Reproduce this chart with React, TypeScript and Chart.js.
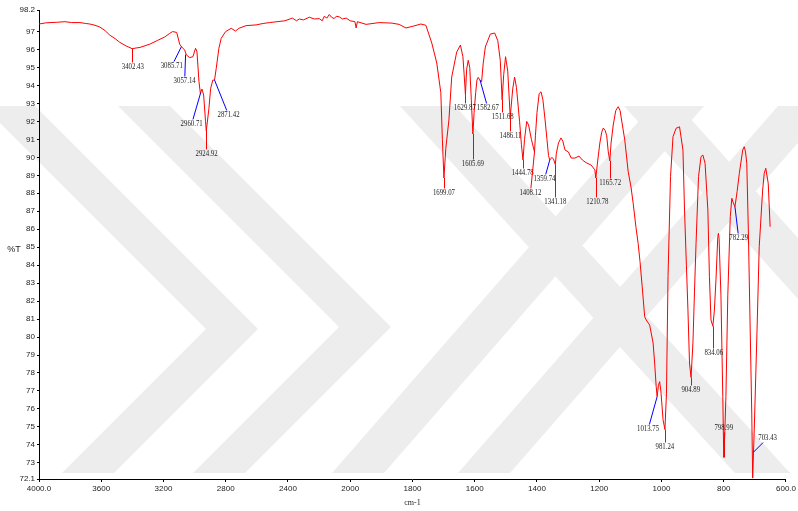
import React, { useEffect, useRef } from 'react';
import { Chart, registerables } from 'chart.js';

Chart.register(...registerables);

// ---- spectrum (wavenumber cm-1, %T) ----
const wavenumbers: number[] = [
  4000, 3960, 3929, 3880, 3833, 3790, 3737, 3700, 3673, 3640, 3609, 3575, 3545, 3510, 3481, 3440, 3402, 3350, 3288, 3240,
  3192, 3160, 3141, 3115, 3096, 3085, 3064, 3053, 3032, 3011, 2994, 2985, 2972, 2963, 2953, 2942, 2930, 2925, 2908, 2897,
  2883, 2872, 2861, 2844, 2829, 2801, 2765, 2737, 2716, 2669, 2605, 2560, 2519, 2470, 2420, 2372, 2345, 2327, 2300, 2263,
  2230, 2199, 2180, 2167, 2150, 2135, 2120, 2103, 2090, 2071, 2050, 2026, 2000, 1985, 1981, 1977, 1949, 1907, 1866, 1843,
  1821, 1798, 1773, 1757, 1738, 1722, 1709, 1704, 1699, 1693, 1683, 1674, 1658, 1646, 1638, 1634, 1630, 1626, 1621, 1616,
  1611, 1606, 1602, 1597, 1593, 1589, 1583, 1578, 1573, 1566, 1550, 1536, 1526, 1518, 1512, 1507, 1501, 1494, 1486, 1478,
  1472, 1466, 1456, 1450, 1445, 1440, 1433, 1427, 1418, 1408, 1405, 1400, 1393, 1387, 1381, 1374, 1368, 1363, 1359, 1352,
  1347, 1341, 1338, 1331, 1323, 1317, 1310, 1299, 1290, 1278, 1265, 1254, 1242, 1226, 1214, 1211, 1205, 1198, 1192, 1187,
  1181, 1176, 1171, 1166, 1162, 1155, 1147, 1139, 1133, 1118, 1107, 1098, 1091, 1082, 1075, 1069, 1062, 1054, 1049, 1038,
  1027, 1022, 1017, 1014, 1010, 1006, 1002, 995, 989, 984, 979, 971, 963, 953, 942, 931, 926, 920, 915, 910,
  905, 899, 894, 889, 881, 873, 867, 860, 851, 846, 841, 835, 830, 825, 819, 817, 815, 809, 803, 800,
  797, 793, 787, 779, 774, 770, 764, 757, 750, 739, 734, 730, 726, 721, 715, 710, 707, 702, 693, 686,
  675, 670, 665, 657, 651,
];
const transmittance: number[] = [
  97.42, 97.48, 97.5, 97.52, 97.55, 97.5, 97.5, 97.45, 97.42, 97.35, 97.25, 97.05, 96.8, 96.6, 96.4, 96.2, 96.05, 96.12, 96.3, 96.5,
  96.7, 96.9, 97.0, 96.95, 96.3, 96.16, 95.97, 95.7, 95.55, 95.6, 96.07, 95.88, 94.21, 93.56, 93.8, 93.47, 92.0, 91.47, 92.73, 93.84,
  94.3, 94.3, 94.96, 96.07, 96.63, 97.0, 97.18, 97.03, 97.18, 97.33, 97.37, 97.45, 97.5, 97.55, 97.6, 97.75, 97.6, 97.7, 97.65, 97.8,
  97.7, 97.72, 97.6, 97.85, 97.75, 97.95, 97.8, 97.72, 97.85, 97.82, 97.7, 97.75, 97.6, 97.55, 97.2, 97.55, 97.4, 97.5, 97.47, 97.4,
  97.2, 97.3, 97.42, 97.35, 96.36, 95.25, 93.6, 91.0, 88.85, 90.5, 92.08, 94.47, 95.86, 96.25, 95.6, 94.6, 93.5, 94.9, 95.4, 95.0,
  93.2, 91.3, 92.5, 93.6, 94.3, 94.45, 94.3, 94.2, 95.2, 96.14, 96.86, 96.92, 96.5, 95.4, 93.2, 94.6, 95.6, 94.8, 92.25, 93.8,
  94.47, 93.9, 92.0, 90.7, 89.85, 91.0, 92.0, 91.8, 91.0, 90.3, 91.2, 92.5, 93.55, 93.65, 93.2, 92.08, 91.0, 90.1, 89.85, 90.0,
  89.9, 89.6, 90.2, 90.8, 91.08, 90.9, 90.41, 90.3, 89.96, 89.96, 90.07, 89.85, 89.7, 89.57, 89.3, 88.85, 89.8, 90.8, 91.4, 91.63,
  91.5, 91.2, 90.3, 89.8, 90.8, 91.8, 92.6, 92.82, 92.6, 90.97, 89.2, 88.35, 87.45, 86.1, 85.2, 84.2, 82.8, 81.13, 80.95, 80.67,
  79.67, 78.55, 77.24, 76.68, 77.3, 77.52, 77.0, 75.4, 74.85, 76.87, 83.36, 88.93, 91.15, 91.62, 91.7, 90.4, 87.07, 84.0, 81.5, 78.55,
  77.75, 79.67, 82.5, 85.2, 88.93, 90.04, 90.13, 89.67, 87.07, 83.36, 80.95, 80.6, 81.5, 83.18, 85.6, 85.77, 85.5, 82.29, 76.68, 73.3,
  74.5, 76.68, 82.29, 86.7, 87.72, 87.5, 87.25, 88.1, 89.1, 90.41, 90.59, 90.3, 89.67, 85.96, 80.39, 75.77, 72.15, 74.83, 80.39, 85.03,
  88.18, 89.1, 89.39, 88.55, 86.14,
];

// ---- axes ----
const xTickWavenumbers: number[] = [4000, 3600, 3200, 2800, 2400, 2000, 1800, 1600, 1400, 1200, 1000, 800, 600];
const yTickValues: number[] = [72.1, 73, 74, 75, 76, 77, 78, 79, 80, 81, 82, 83, 84, 85, 86, 87, 88, 89, 90, 91, 92, 93, 94, 95, 96, 97, 98.2];
const yMin = 72.1;
const yMax = 98.2;
const xTitle = 'cm-1';
const yTitle = '%T';

// ---- peak picks ----
const peakLabels: string[] = [
  '3402.43', '3085.71', '3057.14', '2960.71', '2924.92', '2871.42', '1699.07', '1629.87', '1582.67', '1605.69',
  '1511.68', '1486.11', '1444.78', '1408.12', '1359.74', '1341.18', '1210.78', '1165.72', '1013.75', '981.24',
  '904.89', '834.06', '798.99', '782.29', '703.43',
];
const peakW: number[] = [3402, 3085, 3058, 2961, 2925, 2872, 1699, 1630, 1583, 1606, 1512, 1486, 1445, 1408, 1359, 1341, 1211, 1166, 1014, 989, 905, 835, 800, 764, 704];
const peakT: number[] = [96.05, 96.16, 95.72, 93.6, 91.47, 94.3, 88.85, 93.5, 94.3, 91.3, 93.2, 92.25, 89.85, 90.3, 89.85, 89.6, 88.85, 89.8, 76.68, 74.85, 77.75, 80.6, 73.3, 87.25, 73.6];
const labelW: number[] = [3397, 3147, 3064, 3019, 2923, 2782, 1699, 1632, 1558, 1606, 1510, 1485, 1446, 1421, 1376, 1341, 1206, 1165, 1043, 989, 906, 832, 800, 752, 659];
const labelT: number[] = [95.03, 95.08, 94.25, 91.86, 90.19, 92.36, 88.02, 92.75, 92.75, 89.63, 92.25, 91.19, 89.13, 88.02, 88.8, 87.52, 87.52, 88.57, 74.88, 73.88, 77.05, 79.11, 74.94, 85.51, 74.38];
const peakKind: string[] = [
  'drop', 'callout', 'callout', 'callout', 'drop', 'callout', 'drop', 'drop', 'callout', 'drop',
  'drop', 'drop', 'drop', 'drop', 'callout', 'drop', 'drop', 'drop', 'callout', 'drop',
  'drop', 'drop', 'drop', 'callout', 'callout',
];

// split axis: 4000-2000 compressed to half scale
function toAxis(w: number): number {
  return w >= 2000 ? (4000 - w) / 2 : 1000 + (2000 - w);
}
function fromAxis(t: number): number {
  return t <= 1000 ? 4000 - 2 * t : 2000 - (t - 1000);
}

// decorative watermark (page background, not data)
function drawChevron(ctx: CanvasRenderingContext2D, tx: number, ty: number, top: number, bottom: number, band: number) {
  ctx.beginPath();
  ctx.moveTo(tx - (ty - top), top);
  ctx.lineTo(tx, ty);
  ctx.lineTo(tx - (bottom - ty), bottom);
  ctx.lineTo(tx - (bottom - ty) + band, bottom);
  ctx.lineTo(tx + band, ty);
  ctx.lineTo(tx - (ty - top) + band, top);
  ctx.closePath();
  ctx.fill();
}
// band between y=top and y=bottom; xTop/xBottom = left edge at top/bottom
function drawBand(ctx: CanvasRenderingContext2D, xTop: number, xBottom: number, top: number, bottom: number, band: number) {
  ctx.beginPath();
  ctx.moveTo(xTop, top);
  ctx.lineTo(xTop + band, top);
  ctx.lineTo(xBottom + band, bottom);
  ctx.lineTo(xBottom, bottom);
  ctx.closePath();
  ctx.fill();
}

const backgroundPlugin = {
  id: 'bgWatermark',
  beforeDraw(chart: any) {
    const { ctx, width, height } = chart;
    ctx.save();
    ctx.fillStyle = '#ffffff';
    ctx.fillRect(0, 0, width, height);
    ctx.fillStyle = '#ededed';
    drawChevron(ctx, 206, 329, 106, 473, 52);
    drawChevron(ctx, 339, 327, 106, 473, 52);
    drawBand(ctx, 652, 332, 106, 473, 52);
    drawBand(ctx, 778, 458, 106, 473, 52);
    drawBand(ctx, 400, 735, 106, 473, 55);
    drawBand(ctx, 624, 955, 106, 473, 55);
    ctx.restore();
  },
};

const peakLabelPlugin = {
  id: 'peakLabels',
  afterDatasetsDraw(chart: any) {
    const { ctx } = chart;
    const x = chart.scales.x;
    const y = chart.scales.y;
    ctx.save();
    ctx.font = '8px "Liberation Serif"';
    const sx = 0.85;
    peakLabels.forEach((text, i) => {
      const ax = x.getPixelForValue(toAxis(peakW[i]));
      const ay = y.getPixelForValue(peakT[i]);
      const lx = x.getPixelForValue(toAxis(labelW[i]));
      const ly = y.getPixelForValue(labelT[i]);
      const tw = ctx.measureText(text).width * sx;
      const hw = tw / 2 + 1;
      const hh = 4.5;
      const dx = lx - ax;
      const dy = ly - ay;
      const r = Math.min(Math.abs(dx) > 0.01 ? hw / Math.abs(dx) : Infinity, Math.abs(dy) > 0.01 ? hh / Math.abs(dy) : Infinity);
      const t = Math.max(0, 1 - r);
      const drop = peakKind[i] === 'drop';
      ctx.strokeStyle = drop ? '#ff0000' : '#0000ff';
      ctx.lineWidth = 1;
      ctx.beginPath();
      if (drop && Math.abs(dx) < 2) {
        const px = Math.round(ax) + 0.5;
        ctx.moveTo(px, ay);
        ctx.lineTo(px, ay + t * dy);
      } else {
        ctx.moveTo(ax, ay);
        ctx.lineTo(ax + t * dx, ay + t * dy);
      }
      ctx.stroke();
      ctx.save();
      ctx.translate(lx, ly);
      ctx.scale(sx, 1);
      ctx.textAlign = 'center';
      ctx.textBaseline = 'middle';
      ctx.fillStyle = '#222222';
      ctx.fillText(text, 0, 0);
      ctx.restore();
    });
    // y title
    ctx.font = '9px "Liberation Sans"';
    ctx.fillStyle = '#222222';
    ctx.textAlign = 'center';
    ctx.textBaseline = 'middle';
    ctx.fillText(yTitle, 14, (y.top + y.bottom) / 2 + 5);
    ctx.restore();
  },
};

export default function App() {
  const canvasRef = useRef<HTMLCanvasElement | null>(null);

  useEffect(() => {
    document.body.style.margin = '0';
    const canvas = canvasRef.current;
    if (!canvas) return;
    const points = wavenumbers.map((w, i) => ({ x: toAxis(w), y: transmittance[i] }));
    const chart = new Chart(canvas, {
      type: 'line',
      data: {
        datasets: [
          {
            data: points,
            borderColor: '#ff0000',
            borderWidth: 1,
            pointRadius: 0,
            tension: 0,
            fill: false,
          },
        ],
      },
      options: {
        animation: false,
        responsive: false,
        maintainAspectRatio: false,
        devicePixelRatio: 1,
        layout: { padding: { top: 10, right: 10, left: 0, bottom: 0 } },
        plugins: { legend: { display: false }, tooltip: { enabled: false } },
        scales: {
          x: {
            type: 'linear',
            min: 0,
            max: toAxis(600),
            afterBuildTicks: (scale: any) => {
              scale.ticks = xTickWavenumbers.map((w) => ({ value: toAxis(w) }));
            },
            afterFit: (scale: any) => {
              scale.height = 32;
            },
            ticks: {
              autoSkip: false,
              maxRotation: 0,
              padding: 2,
              color: '#222222',
              font: { family: 'Liberation Sans', size: 8 },
              callback: (value: any) => {
                const w = Math.round(fromAxis(Number(value)));
                return w === 4000 || w === 600 ? w.toFixed(1) : String(w);
              },
            },
            grid: { drawOnChartArea: false, drawTicks: true, tickLength: 3, color: '#000000' },
            border: { display: true, color: '#000000', width: 1 },
            title: {
              display: true,
              text: xTitle,
              color: '#222222',
              font: { family: 'Liberation Serif', size: 8 },
              padding: { top: 0, bottom: 3 },
            },
          },
          y: {
            type: 'linear',
            min: yMin,
            max: yMax,
            afterBuildTicks: (scale: any) => {
              scale.ticks = yTickValues.map((v) => ({ value: v }));
            },
            afterFit: (scale: any) => {
              scale.width = 39;
            },
            ticks: {
              autoSkip: false,
              padding: 2,
              color: '#222222',
              font: { family: 'Liberation Sans', size: 8 },
              callback: (value: any) => {
                const v = Number(value);
                return Number.isInteger(v) ? String(v) : v.toFixed(1);
              },
            },
            grid: { drawOnChartArea: false, drawTicks: true, tickLength: 2, color: '#000000' },
            border: { display: true, color: '#000000', width: 1 },
          },
        },
      },
      plugins: [backgroundPlugin, peakLabelPlugin],
    });
    return () => chart.destroy();
  }, []);

  return <canvas ref={canvasRef} width={798} height={511} style={{ display: 'block' }} />;
}
